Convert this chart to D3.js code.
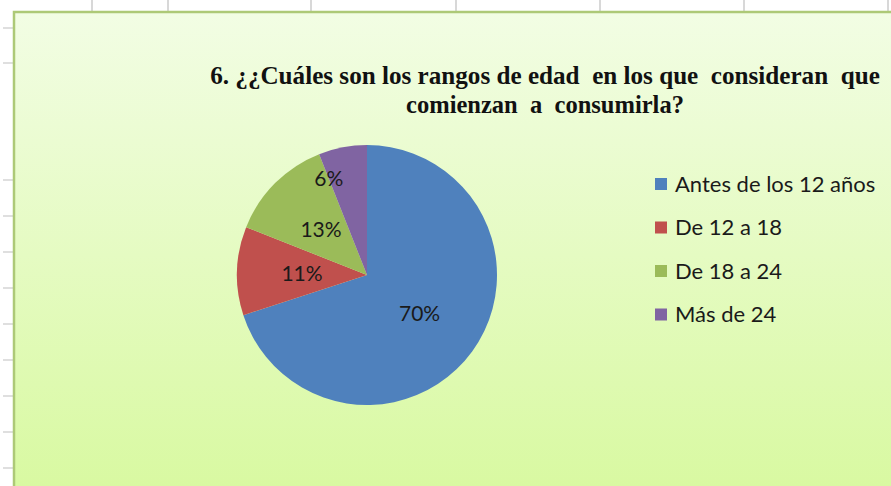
<!DOCTYPE html>
<html>
<head>
<meta charset="utf-8">
<script src="https://cdn.jsdelivr.net/npm/d3@7"></script>
<style>
  body { margin: 0; background: #fff; overflow: hidden; }
  svg { display: block; }
</style>
</head>
<body>
<script>
// pie chart data
const categories = ["Antes de los 12 años", "De 12 a 18", "De 18 a 24", "Más de 24"]
const values = [70, 11, 13, 6]
const colors = ["#4f81bd", "#c0504d", "#9bbb59", "#8064a2"]
const titleLines = ["6. ¿¿Cuáles son los rangos de edad  en los que  consideran  que", "comienzan  a  consumirla?"]

const w = 891
const h = 486

const svg = d3.select("body")
              .append("svg")
              .attr("width", w)
              .attr("height", h)

//? spreadsheet grid behind the chart
const colLines = [92, 168, 311, 456, 600, 744, 888]
const rowLines = [28, 63, 180, 216, 252, 288, 324, 360, 396, 432, 468]
svg.selectAll("line.col")
   .data(colLines)
   .enter()
   .append("line")
   .attr("x1", d => d).attr("x2", d => d)
   .attr("y1", 0).attr("y2", 12)
   .attr("stroke", "#d8d8d8")
   .attr("stroke-width", 2)
svg.selectAll("line.row")
   .data(rowLines)
   .enter()
   .append("line")
   .attr("x1", 3).attr("x2", 14)
   .attr("y1", d => d).attr("y2", d => d)
   .attr("stroke", "#d4d4d4")
   .attr("stroke-width", 1.5)

//? chart area with the green gradient
const defs = svg.append("defs")
const grad = defs.append("linearGradient")
                 .attr("id", "bg")
                 .attr("x1", 0).attr("y1", 0)
                 .attr("x2", 0).attr("y2", 1)
grad.append("stop").attr("offset", "0%").attr("stop-color", "#f2fde4")
grad.append("stop").attr("offset", "100%").attr("stop-color", "#d8f9a0")

svg.append("rect")
   .attr("x", 14)
   .attr("y", 12)
   .attr("width", w)
   .attr("height", h)
   .attr("fill", "url(#bg)")
   .attr("stroke", "#adc977")
   .attr("stroke-width", 2.5)

//? title (excel squeezes it a bit, so scale each line to its width)
const titleWidths = [670, 278]
const title = svg.append("g")
                 .selectAll("g")
                 .data(titleLines)
                 .enter()
                 .append("g")
title.append("text")
     .attr("text-anchor", "middle")
     .style("white-space", "pre")
     .style("font-family", "'Liberation Serif', 'Times New Roman', serif")
     .style("font-weight", "bold")
     .style("font-size", "26px")
     .attr("fill", "#111")
     .text(d => d)
title.attr("transform", function(d, i) {
  const len = d3.select(this).select("text").node().getComputedTextLength()
  return "translate(545," + (84 + i * 29) + ") scale(" + (titleWidths[i] / len) + ",1)"
})

//? the pie
const cx = 367, cy = 275, r = 130
const pie = d3.pie().sort(null).value(d => d)
const arcs = pie(values)
const arc = d3.arc().innerRadius(0).outerRadius(r)
const labelArc = d3.arc().innerRadius(r * 0.5).outerRadius(r * 0.5)
const edgeArc = d3.arc().innerRadius(r * 0.8).outerRadius(r * 0.8)

const g = svg.append("g").attr("transform", "translate(" + cx + "," + cy + ")")
g.selectAll("path")
 .data(arcs)
 .enter()
 .append("path")
 .attr("d", arc)
 .attr("fill", (d, i) => colors[i])

g.selectAll("text")
 .data(arcs)
 .enter()
 .append("text")
 .attr("transform", d => {
   // small slices: excel pushes the label outward onto the slice edge
   let c = d.data < 10
     ? edgeArc.centroid({startAngle: d.startAngle, endAngle: d.startAngle})
     : labelArc.centroid(d)
   return "translate(" + c[0] + "," + c[1] + ")"
 })
 .attr("text-anchor", "middle")
 .attr("dy", "0.36em")
 .style("font-family", "Lato, 'Open Sans', sans-serif")
 .style("font-size", "21px")
 .attr("fill", "#1a1a1a")
 .text(d => d.data + "%")

//? legend
const legend = svg.append("g")
                  .selectAll("g")
                  .data(categories)
                  .enter()
                  .append("g")
                  .attr("transform", (d, i) => "translate(655," + (184 + i * 43.5) + ")")
legend.append("rect")
      .attr("x", 0)
      .attr("y", -6)
      .attr("width", 12)
      .attr("height", 12)
      .attr("fill", (d, i) => colors[i])
legend.append("text")
      .attr("x", 20)
      .attr("dy", "0.36em")
      .style("font-family", "Lato, 'Open Sans', sans-serif")
      .style("font-size", "22px")
      .attr("fill", "#1a1a1a")
      .text(d => d)
</script>
</body>
</html>
